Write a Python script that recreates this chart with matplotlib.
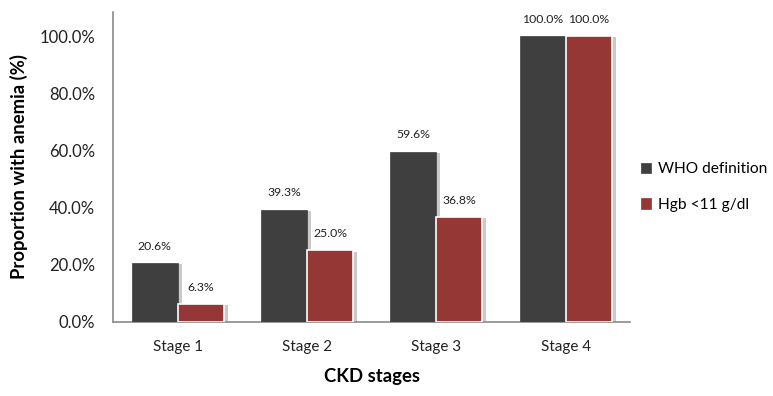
import matplotlib
matplotlib.use("Agg")
import matplotlib.pyplot as plt
import matplotlib.patheffects as pe
import numpy as np

plt.rcParams['font.family'] = ['Lato', 'DejaVu Sans']

stages = ["Stage 1", "Stage 2", "Stage 3", "Stage 4"]
who_definition = [20.6, 39.3, 59.6, 100.0]
hgb_below_11 = [6.3, 25.0, 36.8, 100.0]
series_labels = ["WHO definition", "Hgb <11 g/dl"]
yticks = [0, 20, 40, 60, 80, 100]

dark = "#3f3f3f"
red = "#953735"

fig = plt.figure(figsize=(7.73, 3.96), dpi=100)
ax = fig.add_axes([0.1462, 0.1869, 0.8153 - 0.1462, 0.9697 - 0.1869])

x = np.arange(len(stages))
w = 0.356
shadow = [pe.SimplePatchShadow(offset=(3, -1), shadow_rgbFace="#888888", alpha=0.45), pe.Normal()]

b1 = ax.bar(x - w / 2, who_definition, width=w, color=dark, edgecolor=dark, linewidth=0.5,
            label=series_labels[0], zorder=3)
b2 = ax.bar(x + w / 2, hgb_below_11, width=w, color=red, edgecolor="white", linewidth=1.2,
            label=series_labels[1], zorder=3)
for bars in (b1, b2):
    for p in bars:
        p.set_path_effects(shadow)

for bars, vals in ((b1, who_definition), (b2, hgb_below_11)):
    for p, v in zip(bars, vals):
        ax.annotate(f"{v:.1f}%", (p.get_x() + p.get_width() / 2, v),
                    xytext=(0, 12), textcoords="offset points",
                    ha="center", va="center", fontsize=8.8, color="#222222")

ax.set_xlim(-0.5, len(stages) - 0.5)
ax.set_ylim(0, 108.4)
ax.set_yticks(yticks)
ax.set_yticklabels([f"{t:.1f}%" for t in yticks], fontsize=12, color="#222222")
ax.set_xticks(x)
ax.set_xticklabels(stages, fontsize=11, color="#222222")
ax.tick_params(axis="both", length=0)
ax.tick_params(axis="y", pad=13)
ax.tick_params(axis="x", pad=13)

for s in ("top", "right"):
    ax.spines[s].set_visible(False)
for s in ("left", "bottom"):
    ax.spines[s].set_color("#8a8a8a")
    ax.spines[s].set_linewidth(1.2)

ax.set_ylabel("Proportion with anemia (%)", fontsize=13.3, fontweight="bold", labelpad=8)
ax.set_xlabel("CKD stages", fontsize=13.3, fontweight="bold", labelpad=10)

leg = ax.legend(loc="center left", bbox_to_anchor=(1.02, 0.435), frameon=False,
                borderpad=0, borderaxespad=0,
                fontsize=11.2, handlelength=0.65, handleheight=0.65, handletextpad=0.45,
                labelspacing=1.4)
for h in leg.legend_handles:
    h.set_path_effects([])
    h.set_edgecolor(h.get_facecolor())
    h.set_linewidth(0.5)

fig.savefig("out.png", dpi=100)
